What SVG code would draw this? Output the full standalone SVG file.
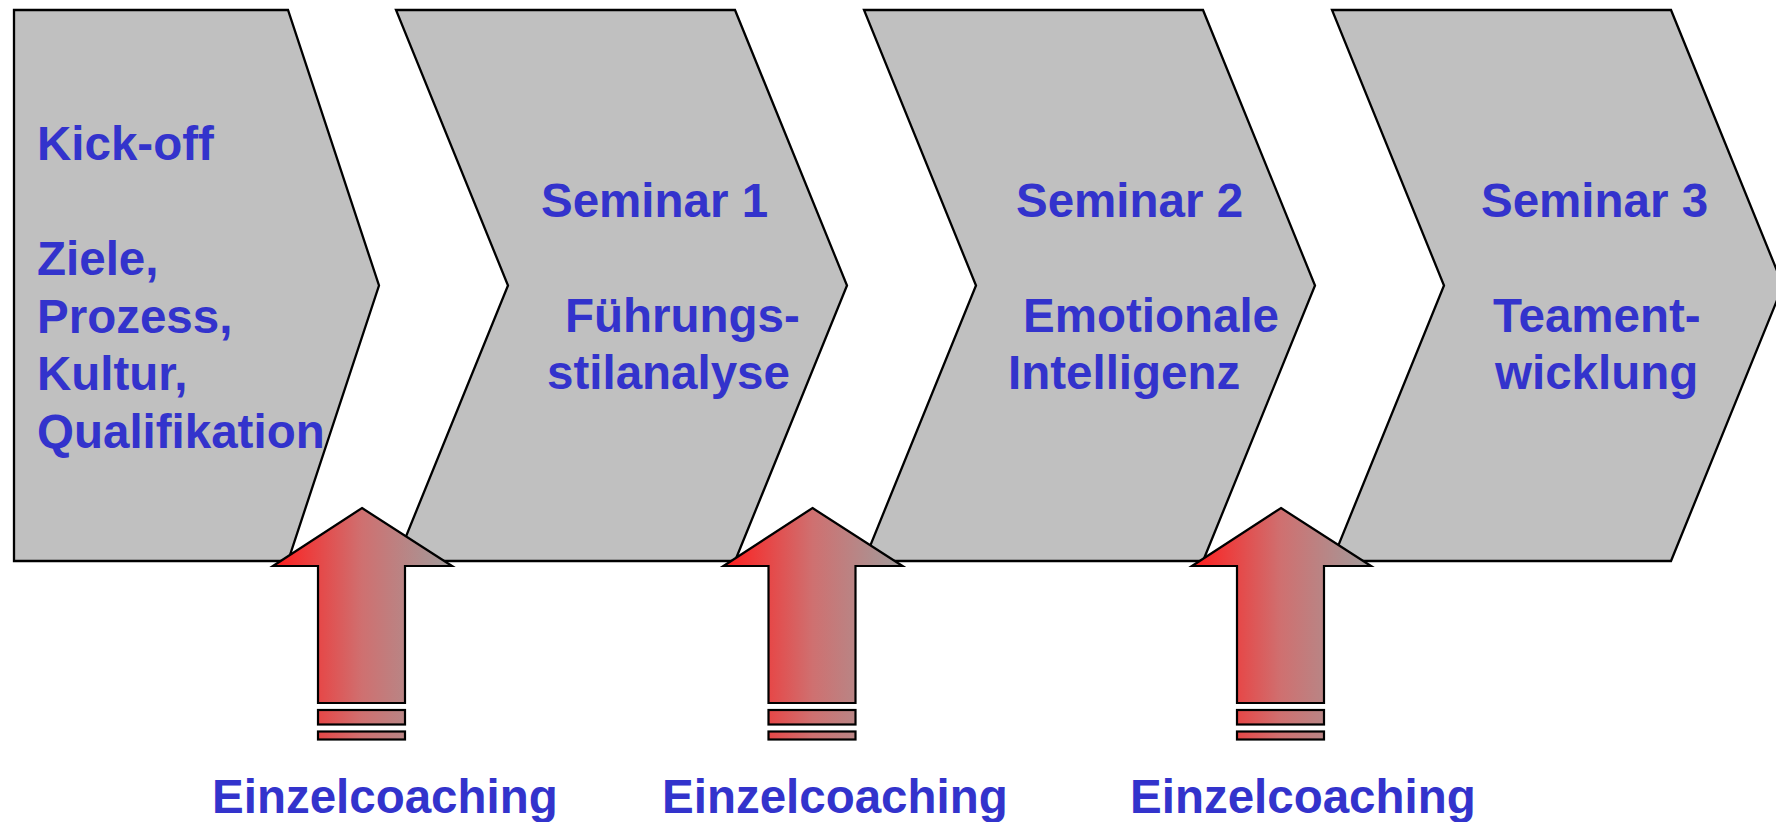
<svg xmlns="http://www.w3.org/2000/svg" width="1776" height="822" viewBox="0 0 1776 822">
  <style>
    .shape { fill: #c0c0c0; stroke: #000; stroke-width: 2.3; stroke-linejoin: miter; }
    .lbl { font-family: "Liberation Sans", Arial, sans-serif; font-weight: bold; font-size: 47.5px; fill: #3333cc; }
    .arrow { fill: url(#arrowGrad); stroke: #000; stroke-width: 2.2; stroke-linejoin: miter; }
  </style>
  <defs>
    <linearGradient id="arrowGrad" gradientUnits="userSpaceOnUse" x1="-90" y1="0" x2="90" y2="0">
      <stop offset="0" stop-color="#ff1c1c"/>
      <stop offset="0.5" stop-color="#cf7070"/>
      <stop offset="1" stop-color="#a09c9c"/>
    </linearGradient>
  </defs>
  <rect width="1776" height="822" fill="#fff"/>

  <g id="node-kickoff">
    <polygon class="shape" points="14,10 288,10 379,285.5 288,561 14,561"/>
    <text class="lbl" x="37" y="160">Kick-off</text>
    <text class="lbl" x="37" y="275">Ziele,</text>
    <text class="lbl" x="37" y="332.5">Prozess,</text>
    <text class="lbl" x="37" y="390">Kultur,</text>
    <text class="lbl" x="37" y="447.5">Qualifikation</text>
  </g>

  <g id="node-seminar1">
    <polygon class="shape" points="396,10 735,10 847,285.5 735,561 396,561 508,285.5"/>
    <text class="lbl" x="541" y="217">Seminar 1</text>
    <text class="lbl" x="565" y="332">Führungs-</text>
    <text class="lbl" x="547" y="389">stilanalyse</text>
  </g>

  <g id="node-seminar2">
    <polygon class="shape" points="864,10 1203,10 1315,285.5 1203,561 864,561 976,285.5"/>
    <text class="lbl" x="1016" y="217">Seminar 2</text>
    <text class="lbl" x="1023" y="332">Emotionale</text>
    <text class="lbl" x="1008" y="389">Intelligenz</text>
  </g>

  <g id="node-seminar3">
    <polygon class="shape" points="1332,10 1671,10 1783,285.5 1671,561 1332,561 1444,285.5"/>
    <text class="lbl" x="1481" y="217">Seminar 3</text>
    <text class="lbl" x="1493" y="332">Teament-</text>
    <text class="lbl" x="1495" y="389">wicklung</text>
  </g>

  <g id="connectors">
    <g id="arrow1" transform="translate(362,0)">
      <polygon class="arrow" points="0,508 90,566 43,566 43,703 -44,703 -44,566 -89,566"/>
      <rect class="arrow" x="-44" y="710" width="87" height="14.5"/>
      <rect class="arrow" x="-44" y="731.5" width="87" height="8"/>
    </g>
    <g id="arrow2" transform="translate(812.5,0)">
      <polygon class="arrow" points="0,508 90,566 43,566 43,703 -44,703 -44,566 -89,566"/>
      <rect class="arrow" x="-44" y="710" width="87" height="14.5"/>
      <rect class="arrow" x="-44" y="731.5" width="87" height="8"/>
    </g>
    <g id="arrow3" transform="translate(1281,0)">
      <polygon class="arrow" points="0,508 90,566 43,566 43,703 -44,703 -44,566 -89,566"/>
      <rect class="arrow" x="-44" y="710" width="87" height="14.5"/>
      <rect class="arrow" x="-44" y="731.5" width="87" height="8"/>
    </g>
  </g>

  <g id="labels-coaching">
    <text class="lbl" x="212" y="813">Einzelcoaching</text>
    <text class="lbl" x="662" y="813">Einzelcoaching</text>
    <text class="lbl" x="1130" y="813">Einzelcoaching</text>
  </g>
</svg>
